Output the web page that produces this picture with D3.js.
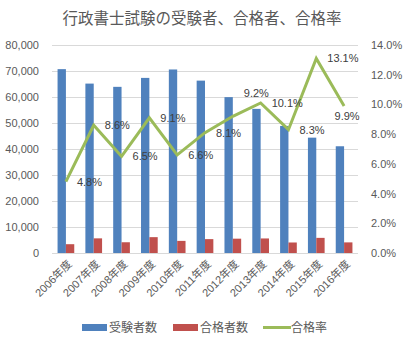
<!DOCTYPE html>
<html><head><meta charset="utf-8">
<script src="https://cdn.jsdelivr.net/npm/d3@7"></script>
<style>
html,body{margin:0;padding:0;background:#fff;}
svg{display:block;font-family:"Liberation Sans","Noto Sans CJK JP",sans-serif;}
</style></head>
<body><svg id="c" width="407" height="346"></svg>
<script>
const categories = ["2006年度","2007年度","2008年度","2009年度","2010年度","2011年度","2012年度","2013年度","2014年度","2015年度","2016年度"];
const applicants = [70713,65157,63907,67348,70586,66297,59948,55436,48869,44366,41053];
const passers = [3385,5631,4133,6095,4662,5337,5508,5597,4043,5820,4084];
const passRate = [4.8,8.6,6.5,9.1,6.6,8.1,9.2,10.1,8.3,13.1,9.9];
const leftTicks = [0,10000,20000,30000,40000,50000,60000,70000,80000];
const rightTicks = [0,2,4,6,8,10,12,14];
const seriesNames = ["受験者数","合格者数","合格率"];
const colors = ["#4F81BD","#C0504D","#9BBB59"];
const title = "行政書士試験の受験者、合格者、合格率";

const svg = d3.select("#c");
const L = 52, R = 358, T = 45, B = 253;

const x0 = d3.scaleBand().domain(categories).range([L,R]).paddingInner(0.4).paddingOuter(0.2);
const x1 = d3.scaleBand().domain([0,1]).range([0,x0.bandwidth()]);
const yL = d3.scaleLinear().domain([0,80000]).range([B,T]);
const yR = d3.scaleLinear().domain([0,14]).range([B,T]);

svg.append("text").attr("x",202).attr("y",24).attr("text-anchor","middle")
  .attr("font-size","15.5px").attr("fill","#595959").text(title);

// gridlines
svg.append("g").selectAll("line").data(leftTicks).join("line")
  .attr("x1",L).attr("x2",R).attr("y1",d=>Math.round(yL(d))+0.5).attr("y2",d=>Math.round(yL(d))+0.5)
  .attr("stroke","#D9D9D9").attr("stroke-width",1);

// left axis
const gl = svg.append("g").attr("transform",`translate(${L-10},0)`)
  .call(d3.axisLeft(yL).tickValues(leftTicks).tickFormat(d3.format(",")).tickSize(0));
gl.select(".domain").remove();
gl.selectAll("text").attr("font-size","11px").attr("fill","#595959").attr("font-family","Liberation Sans, sans-serif");

// right axis
const gr = svg.append("g").attr("transform",`translate(${R+10},0)`)
  .call(d3.axisRight(yR).tickValues(rightTicks).tickFormat(d=>d.toFixed(1)+"%").tickSize(0));
gr.select(".domain").remove();
gr.selectAll("text").attr("font-size","11px").attr("fill","#595959").attr("font-family","Liberation Sans, sans-serif");

// bars
const seriesBars = [applicants, passers];
seriesBars.forEach((vals,si)=>{
  svg.append("g").selectAll("rect").data(vals).join("rect")
    .attr("x",(d,i)=>x0(categories[i])+x1(si))
    .attr("width",x1.bandwidth())
    .attr("y",d=>yL(d)).attr("height",d=>B-yL(d))
    .attr("fill",colors[si]);
});

// x axis baseline
svg.append("line").attr("x1",L).attr("x2",R).attr("y1",B+0.5).attr("y2",B+0.5).attr("stroke","#D9D9D9");

// x labels
svg.append("g").selectAll("text").data(categories).join("text")
  .attr("transform",d=>`translate(${x0(d)+x0.bandwidth()/2+4},${B+9}) rotate(-45)`)
  .attr("text-anchor","end").attr("dy","0.35em")
  .attr("font-size","11px").attr("fill","#595959").text(d=>d);

// line
const cx = i => x0(categories[i])+x0.bandwidth()/2;
const line = d3.line().x((d,i)=>cx(i)).y(d=>yR(d));
svg.append("path").datum(passRate).attr("d",line).attr("fill","none")
  .attr("stroke",colors[2]).attr("stroke-width",3).attr("stroke-linejoin","miter");

// data labels (right of point; two labels moved as in the original)
const labelPos = i => {
  if (i === 6) return {dx: 11, dy: -23, anchor: "start"};
  if (i === 10) return {dx: 3, dy: 10, anchor: "middle"};
  return {dx: 11, dy: 0, anchor: "start"};
};
svg.append("g").selectAll("text").data(passRate).join("text")
  .attr("x",(d,i)=>cx(i)+labelPos(i).dx).attr("y",(d,i)=>yR(d)+labelPos(i).dy).attr("dy","0.35em")
  .attr("text-anchor",(d,i)=>labelPos(i).anchor)
  .attr("font-size","11px").attr("fill","#404040").text(d=>d.toFixed(1)+"%");

// legend
const lg = svg.append("g").attr("font-size","12px").attr("fill","#595959");
const legendX = [82,173,263];
seriesNames.forEach((n,i)=>{
  if(i<2){
    lg.append("rect").attr("x",legendX[i]).attr("y",324).attr("width",25).attr("height",7).attr("fill",colors[i]);
  } else {
    lg.append("line").attr("x1",legendX[i]).attr("x2",legendX[i]+28).attr("y1",327.5).attr("y2",327.5)
      .attr("stroke",colors[i]).attr("stroke-width",3);
  }
  lg.append("text").attr("x",legendX[i]+(i<2?27:28)).attr("y",327.5).attr("dy","0.35em").attr("fill","#595959").text(n);
});
</script></body></html>
